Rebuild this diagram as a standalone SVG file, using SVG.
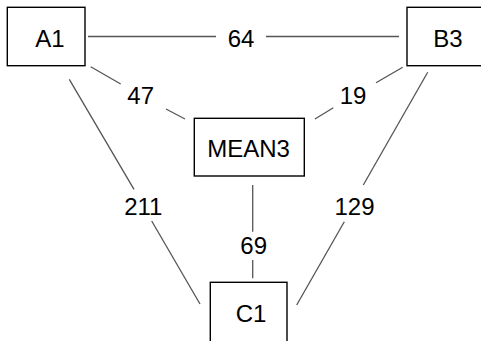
<svg xmlns="http://www.w3.org/2000/svg" width="481" height="341" viewBox="0 0 481 341">
<style>
.box{fill:#fff;stroke:#000;stroke-width:1.4}
.t{font-family:"Liberation Sans",Arial,sans-serif;font-size:24px;fill:#000;text-anchor:middle}
.e{stroke:#555;stroke-width:1.3;fill:none}
</style>
<rect width="481" height="341" fill="#fff"/>
<g id="edges">
<line class="e" x1="88" y1="36.5" x2="216" y2="36.5"/>
<line class="e" x1="266" y1="36.5" x2="399" y2="36.5"/>
<text class="t" x="241" y="46.7">64</text>
<line class="e" x1="90.7" y1="66.7" x2="120.7" y2="84"/>
<line class="e" x1="166" y1="109" x2="185" y2="119"/>
<text class="t" x="140.7" y="104">47</text>
<line class="e" x1="69.3" y1="79.3" x2="134" y2="189.3"/>
<line class="e" x1="151.7" y1="221" x2="200" y2="304"/>
<text class="t" x="143.3" y="215">211</text>
<line class="e" x1="402.7" y1="67.3" x2="376" y2="82.7"/>
<line class="e" x1="333.3" y1="107.7" x2="315" y2="119"/>
<text class="t" x="353" y="104">19</text>
<line class="e" x1="427.7" y1="72.3" x2="363.3" y2="185"/>
<line class="e" x1="344.3" y1="221.7" x2="296.7" y2="305"/>
<text class="t" x="354.5" y="214.5">129</text>
<line class="e" x1="252.7" y1="185" x2="252.7" y2="231.7"/>
<line class="e" x1="252.7" y1="260" x2="252.7" y2="278.3"/>
<text class="t" x="253.7" y="253.5">69</text>
</g>
<g id="A1">
<rect class="box" x="7.3" y="7.3" width="77.7" height="58.4"/>
<text class="t" x="50" y="46.7">A1</text>
</g>
<g id="B3">
<rect class="box" x="407" y="7.3" width="78" height="58.4"/>
<text class="t" x="448" y="46.7">B3</text>
</g>
<g id="MEAN3">
<rect class="box" x="194.3" y="118.3" width="110" height="57.7"/>
<text class="t" x="248.5" y="157.3">MEAN3</text>
</g>
<g id="C1">
<rect class="box" x="210.3" y="282.3" width="76.7" height="60"/>
<text class="t" x="251" y="321.7">C1</text>
</g>
</svg>
